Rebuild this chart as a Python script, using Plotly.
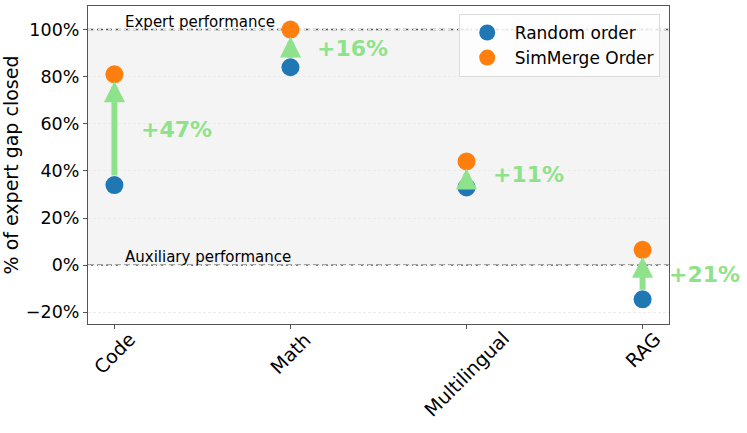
import plotly.graph_objects as go

# Data
categories = ['Code', 'Math', 'Multilingual', 'RAG']
random_order = [34, 84, 33, -14.5]
simmerge_order = [81, 100, 44, 6.5]
y_ticks = [-20, 0, 20, 40, 60, 80, 100]
y_tick_text = ['%d%%' % v if v >= 0 else '\u2212%d%%' % -v for v in y_ticks]

BLUE = '#1f77b4'
ORANGE = '#ff7f0e'
GREEN = '#8fe28c'
FONT = 'DejaVu Sans'

x = list(range(len(categories)))

fig = go.Figure()

fig.add_trace(go.Scatter(
    x=x, y=random_order, mode='markers', name='Random order',
    marker=dict(size=18, color=BLUE),
))
fig.add_trace(go.Scatter(
    x=x, y=simmerge_order, mode='markers', name='SimMerge Order',
    marker=dict(size=18, color=ORANGE),
))

# shaded band between auxiliary (0%) and expert (100%)
fig.add_shape(type='rect', xref='paper', yref='y', x0=0, x1=1, y0=0, y1=100,
              fillcolor='#f4f4f4', line_width=0, layer='below')
for yv in (0, 100):
    fig.add_shape(type='line', xref='paper', yref='y', x0=0, x1=1, y0=yv, y1=yv,
                  line=dict(color='#555555', width=1.4, dash='6px,3px'), layer='between')

fig.add_annotation(x=0.05, y=100, xref='x', yref='y', text='Expert performance',
                   showarrow=False, xanchor='left', yanchor='bottom', yshift=-3,
                   font=dict(family=FONT, size=15, color='black'))
fig.add_annotation(x=0.05, y=0, xref='x', yref='y', text='Auxiliary performance',
                   showarrow=False, xanchor='left', yanchor='bottom', yshift=-3,
                   font=dict(family=FONT, size=15, color='black'))

# arrows + gain labels
for i, (r, s) in enumerate(zip(random_order, simmerge_order)):
    fig.add_annotation(x=i, y=s, ax=i, ay=r, xref='x', yref='y', axref='x', ayref='y',
                       text='', showarrow=True, arrowhead=2, arrowwidth=6, arrowsize=0.7,
                       arrowcolor=GREEN, standoff=7, startstandoff=8)
    fig.add_annotation(x=i + 0.14, y=(r + s) / 2, xref='x', yref='y',
                       text='<b>+%d%%</b>' % round(s - r), showarrow=False,
                       xanchor='left', yanchor='middle',
                       font=dict(family=FONT, size=22, color=GREEN))

# rotated category labels, centred under each tick
for i, c in enumerate(categories):
    fig.add_annotation(x=i, y=0, xref='x', yref='paper', text=c, showarrow=False,
                       textangle=-45, xanchor='center', yanchor='top', yshift=-1,
                       font=dict(family=FONT, size=19, color='black'))

fig.update_layout(
    width=747, height=433,
    margin=dict(l=88, r=78, t=6, b=109),
    plot_bgcolor='white', paper_bgcolor='white',
    font=dict(family=FONT, size=17.5, color='black'),
    legend=dict(x=0.984, y=0.975, xanchor='right', yanchor='top',
                bgcolor='rgba(255,255,255,0.8)', bordercolor='#dddddd', borderwidth=1,
                font=dict(family=FONT, size=17), itemwidth=45),
)
fig.update_xaxes(range=[-0.15, 3.15], tickvals=x, showticklabels=False,
                 showgrid=False, zeroline=False,
                 showline=True, mirror=True, linecolor='#555555', linewidth=1.2,
                 ticks='outside', ticklen=4, tickcolor='#555555')
fig.update_yaxes(range=[-25, 110], tickvals=y_ticks, ticktext=y_tick_text,
                 title=dict(text='% of expert gap closed', font=dict(size=19), standoff=3),
                 showgrid=True, gridcolor='#ebebeb', griddash='3px,2px', gridwidth=0.8,
                 zeroline=False, automargin=False,
                 showline=True, mirror=True, linecolor='#555555', linewidth=1.2,
                 ticks='outside', ticklen=4, tickcolor='#555555')

# drop the default body margin so the figure sits at the window's top-left corner
fig.write_html('out.html', config={'displayModeBar': False},
               post_script="document.body.style.margin='0px';")
